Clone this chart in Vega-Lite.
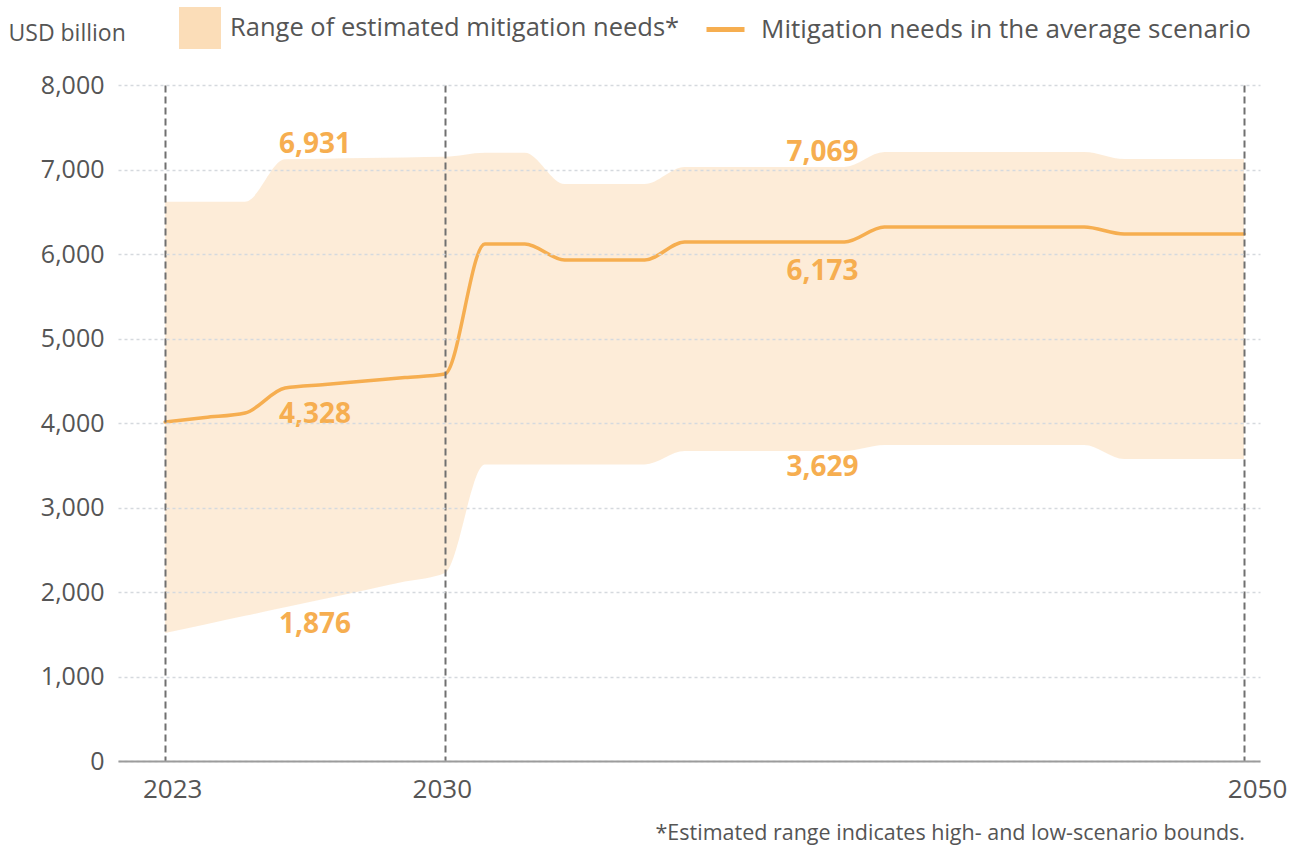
{
  "$schema": "https://vega.github.io/schema/vega-lite/v6.json",
  "width": 1142,
  "height": 676,
  "autosize": {"type": "none"},
  "padding": {"left": 118, "top": 85, "right": 38, "bottom": 85},
  "background": "white",
  "config": {
    "view": {"stroke": null},
    "font": "Open Sans",
    "text": {"font": "Open Sans"}
  },
  "title": {
    "text": "*Estimated range indicates high- and low-scenario bounds.",
    "orient": "bottom",
    "anchor": "end",
    "frame": "group",
    "offset": 21,
    "dx": -15,
    "font": "Open Sans",
    "fontSize": 21.5,
    "fontWeight": "normal",
    "color": "#555555"
  },
  "datasets": {
    "needs": [
      {"year": 2023, "low": 1515, "avg": 4012, "high": 6619},
      {"year": 2024, "low": 1616, "avg": 4065, "high": 6619},
      {"year": 2025, "low": 1718, "avg": 4118, "high": 6619},
      {"year": 2026, "low": 1819, "avg": 4414, "high": 7120},
      {"year": 2027, "low": 1920, "avg": 4455, "high": 7128},
      {"year": 2028, "low": 2022, "avg": 4497, "high": 7135},
      {"year": 2029, "low": 2123, "avg": 4538, "high": 7143},
      {"year": 2030, "low": 2225, "avg": 4580, "high": 7150},
      {"year": 2031, "low": 3510, "avg": 6118, "high": 7199},
      {"year": 2032, "low": 3510, "avg": 6118, "high": 7199},
      {"year": 2033, "low": 3510, "avg": 5929, "high": 6828},
      {"year": 2034, "low": 3510, "avg": 5929, "high": 6828},
      {"year": 2035, "low": 3510, "avg": 5929, "high": 6828},
      {"year": 2036, "low": 3669, "avg": 6142, "high": 7030},
      {"year": 2037, "low": 3669, "avg": 6142, "high": 7030},
      {"year": 2038, "low": 3669, "avg": 6142, "high": 7030},
      {"year": 2039, "low": 3669, "avg": 6142, "high": 7030},
      {"year": 2040, "low": 3669, "avg": 6142, "high": 7030},
      {"year": 2041, "low": 3740, "avg": 6320, "high": 7207},
      {"year": 2042, "low": 3740, "avg": 6320, "high": 7207},
      {"year": 2043, "low": 3740, "avg": 6320, "high": 7207},
      {"year": 2044, "low": 3740, "avg": 6320, "high": 7207},
      {"year": 2045, "low": 3740, "avg": 6320, "high": 7207},
      {"year": 2046, "low": 3740, "avg": 6320, "high": 7207},
      {"year": 2047, "low": 3574, "avg": 6237, "high": 7124},
      {"year": 2048, "low": 3574, "avg": 6237, "high": 7124},
      {"year": 2049, "low": 3574, "avg": 6237, "high": 7124},
      {"year": 2050, "low": 3574, "avg": 6237, "high": 7124}
    ]
  },
  "layer": [
    {
      "data": {"name": "needs"},
      "mark": {"type": "area", "interpolate": "monotone", "opacity": 0.55},
      "encoding": {
        "x": {
          "field": "year",
          "type": "quantitative",
          "scale": {"domain": [2021.82, 2050.4], "nice": false, "zero": false},
          "axis": {
            "values": [2023, 2030, 2050],
            "format": "d",
            "title": null,
            "labelFont": "Open Sans",
            "labelFontSize": 26,
            "labelColor": "#555555",
            "labelPadding": 15,
            "labelFlush": false,
            "labelOffset": {
              "condition": [
                {"test": "datum.value == 2050", "value": 13},
                {"test": "datum.value == 2023", "value": 7}
              ],
              "value": -3
            },
            "ticks": false,
            "domain": true,
            "domainColor": "#9c9c9c",
            "domainWidth": 2,
            "grid": true,
            "gridDash": [7, 4],
            "gridColor": "#707070",
            "gridWidth": 2,
            "zindex": 1
          }
        },
        "y": {
          "field": "low",
          "type": "quantitative",
          "scale": {"domain": [0, 8000], "nice": false},
          "axis": {
            "values": [0, 1000, 2000, 3000, 4000, 5000, 6000, 7000, 8000],
            "format": ",.0f",
            "title": "USD billion",
            "titleAngle": 0,
            "titleAlign": "left",
            "titleBaseline": "middle",
            "titleX": -110,
            "titleY": -52,
            "titleFont": "Open Sans",
            "titleFontSize": 23,
            "titleFontWeight": "normal",
            "titleColor": "#555555",
            "labelFont": "Open Sans",
            "labelFontSize": 25,
            "labelColor": "#555555",
            "labelPadding": 14,
            "ticks": false,
            "domain": false,
            "grid": true,
            "gridDash": [3, 3],
            "gridColor": "#d5d9de",
            "gridWidth": 1.5,
            "zindex": 1
          }
        },
        "y2": {"field": "high"},
        "fill": {
          "datum": "Range of estimated mitigation needs*",
          "type": "nominal",
          "scale": {"range": ["#FBDDB8"]},
          "legend": {
            "orient": "none",
            "legendX": 61,
            "legendY": -78,
            "title": null,
            "padding": 0,
            "symbolType": "square",
            "symbolSize": 1764,
            "symbolOpacity": 1,
            "symbolStrokeWidth": 0,
            "labelFont": "Open Sans",
            "labelFontSize": 25.5,
            "labelColor": "#555555",
            "labelOffset": 9,
            "labelLimit": 700
          }
        }
      }
    },
    {
      "data": {"name": "needs"},
      "mark": {"type": "line", "interpolate": "monotone", "strokeWidth": 3.5, "strokeCap": "round"},
      "encoding": {
        "x": {"field": "year", "type": "quantitative"},
        "y": {"field": "avg", "type": "quantitative"},
        "stroke": {
          "datum": "Mitigation needs in the average scenario",
          "type": "nominal",
          "scale": {"range": ["#F6AE50"]},
          "legend": {
            "orient": "none",
            "legendX": 586,
            "legendY": -77,
            "title": null,
            "padding": 0,
            "symbolType": "stroke",
            "symbolSize": 1444,
            "symbolStrokeWidth": 5,
            "symbolOpacity": 1,
            "labelFont": "Open Sans",
            "labelFontSize": 26,
            "labelColor": "#555555",
            "labelOffset": 14,
            "labelLimit": 700
          }
        }
      }
    },
    {
      "data": {"values": [{"year": 2026.75, "value": 6931}]},
      "mark": {"type": "text", "fontSize": 28, "fontWeight": "bold", "color": "#F6AE50", "align": "center", "baseline": "middle", "dy": -30},
      "encoding": {
        "x": {"field": "year", "type": "quantitative"},
        "y": {"field": "value", "type": "quantitative"},
        "text": {"field": "value", "type": "quantitative", "format": ",.0f"}
      }
    },
    {
      "data": {"values": [{"year": 2026.75, "value": 4328}]},
      "mark": {"type": "text", "fontSize": 28, "fontWeight": "bold", "color": "#F6AE50", "align": "center", "baseline": "middle", "dy": 20},
      "encoding": {
        "x": {"field": "year", "type": "quantitative"},
        "y": {"field": "value", "type": "quantitative"},
        "text": {"field": "value", "type": "quantitative", "format": ",.0f"}
      }
    },
    {
      "data": {"values": [{"year": 2026.75, "value": 1876}]},
      "mark": {"type": "text", "fontSize": 28, "fontWeight": "bold", "color": "#F6AE50", "align": "center", "baseline": "middle", "dy": 23},
      "encoding": {
        "x": {"field": "year", "type": "quantitative"},
        "y": {"field": "value", "type": "quantitative"},
        "text": {"field": "value", "type": "quantitative", "format": ",.0f"}
      }
    },
    {
      "data": {"values": [{"year": 2039.45, "value": 7069}]},
      "mark": {"type": "text", "fontSize": 28, "fontWeight": "bold", "color": "#F6AE50", "align": "center", "baseline": "middle", "dy": -11},
      "encoding": {
        "x": {"field": "year", "type": "quantitative"},
        "y": {"field": "value", "type": "quantitative"},
        "text": {"field": "value", "type": "quantitative", "format": ",.0f"}
      }
    },
    {
      "data": {"values": [{"year": 2039.45, "value": 6173}]},
      "mark": {"type": "text", "fontSize": 28, "fontWeight": "bold", "color": "#F6AE50", "align": "center", "baseline": "middle", "dy": 33},
      "encoding": {
        "x": {"field": "year", "type": "quantitative"},
        "y": {"field": "value", "type": "quantitative"},
        "text": {"field": "value", "type": "quantitative", "format": ",.0f"}
      }
    },
    {
      "data": {"values": [{"year": 2039.45, "value": 3629}]},
      "mark": {"type": "text", "fontSize": 28, "fontWeight": "bold", "color": "#F6AE50", "align": "center", "baseline": "middle", "dy": 14},
      "encoding": {
        "x": {"field": "year", "type": "quantitative"},
        "y": {"field": "value", "type": "quantitative"},
        "text": {"field": "value", "type": "quantitative", "format": ",.0f"}
      }
    }
  ]
}
